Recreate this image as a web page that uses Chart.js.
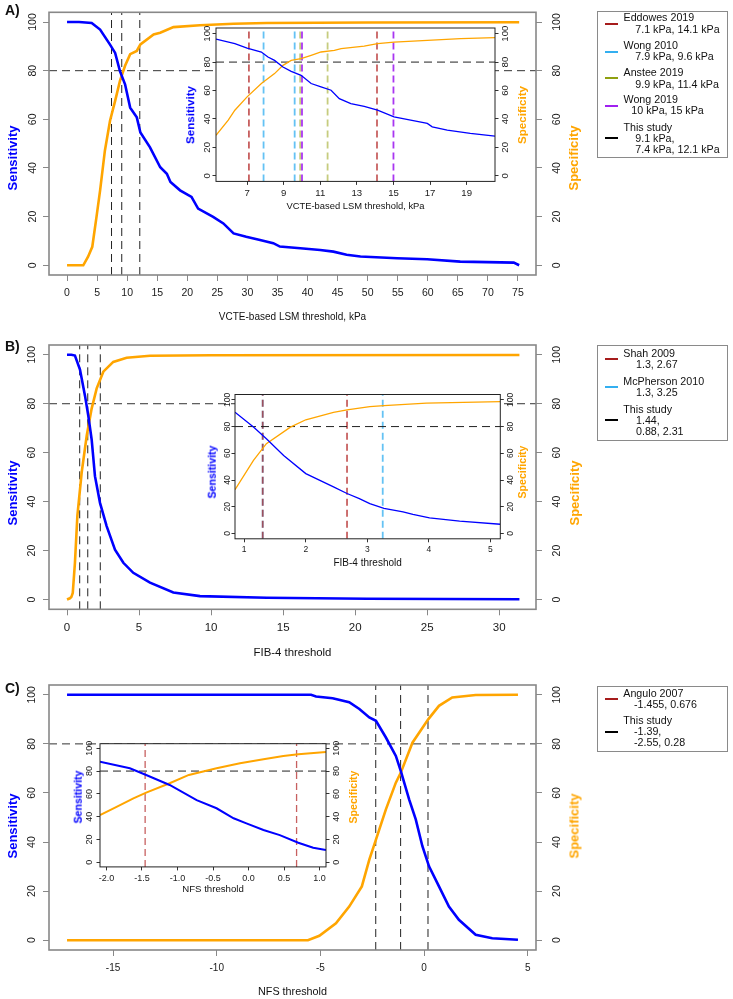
<!DOCTYPE html>
<html><head><meta charset="utf-8">
<script src="https://cdn.jsdelivr.net/npm/chart.js@4.4.1/dist/chart.umd.min.js"></script>
<style>
html,body{margin:0;padding:0;background:#fff;}
#page{position:relative;width:733px;height:999px;overflow:hidden;font-family:"Liberation Sans",Arial,Helvetica,sans-serif;}
#page canvas{position:absolute;}
.vt{position:absolute;font-weight:bold;white-space:nowrap;line-height:1;transform:translate(-50%,-50%) rotate(-90deg);}
.pl{position:absolute;font-weight:bold;font-size:14px;line-height:14px;color:#111;}
.lgbox{position:absolute;border:1px solid #8a8a8a;box-sizing:border-box;}
.lt{position:absolute;white-space:pre;font-size:10.7px;line-height:12px;color:#111;}
.ls{position:absolute;height:2.4px;}
</style></head>
<body><div id="page"></div>
<script>
// ================= DATA =================
const yTickVals = [0, 20, 40, 60, 80, 100];

// ---- Panel A: VCTE-based LSM threshold (kPa) ----
const A_xTicks = [0,5,10,15,20,25,30,35,40,45,50,55,60,65,70,75];
const A_sensX = [0,2,4.1,5.5,7.15,8.0,8.8,9.65,10.5,11.6,12.2,13.8,15.5,16.6,17.2,18.8,20.7,21.8,24.3,26.0,27.7,29.8,32.1,34.3,35.4,38.8,42.1,44.3,46.5,48.8,54.9,59.9,65.4,74.3,75.2];
const A_sensY = [100,100,99.6,96.9,90.7,87.3,79.8,74.4,64.8,60.8,54.6,48.5,40.3,37.6,34.2,30.8,28.1,23.3,19.9,17.2,13.1,11.7,10.4,9.1,7.7,7.0,6.3,5.6,4.3,3.6,2.9,2.5,1.5,1.1,0];
const A_specX = [0,2.7,3.5,4.2,4.9,5.5,6.3,7.15,8.0,8.8,9.65,10.5,11.6,12.2,14.4,15.5,17.7,22.1,27.7,33.2,50,75.2];
const A_specY = [0,0,3.5,7.6,19.9,30.8,47.2,59.4,67.6,75.8,82,86.8,88.1,90.8,94.9,95.6,97.9,98.7,99.3,99.6,99.8,99.9];
const A_studyCuts = [7.4, 9.1, 12.1];
const A_inXTicks = [7,9,11,13,15,17,19];
const A_inSensX = [5.3,6.33,7.0,7.78,8.14,8.5,8.96,9.41,9.95,10.5,11.04,11.59,12.04,12.67,13.4,14.13,15.03,15.94,16.85,17.12,17.94,19.2,20.55];
const A_inSensY = [96.2,93.0,89.9,87.1,83.6,81.2,76.5,73.5,70.7,64.9,62.5,60.2,54.3,50.8,48.8,46.1,41.4,39.1,36.8,34.4,32.1,29.8,27.9];
const A_inSpecX = [5.3,5.97,6.33,7.0,7.78,8.14,8.5,8.96,9.41,9.95,10.5,11.04,11.77,12.14,13.4,14.13,15.03,16.85,18.67,20.55];
const A_inSpecY = [28.5,39.1,46.1,55.5,64.9,68.4,71.9,77.7,81.2,82.4,84.8,87.1,88.3,89.5,91.2,93.0,94.1,95.3,96.5,97.2];
const A_refCuts = [[7.1,14.1],[7.9,9.6],[9.9,11.4],[10,15]];
const A_legend = [['Eddowes 2019','7.1 kPa, 14.1 kPa'],['Wong 2010','7.9 kPa, 9.6 kPa'],['Anstee 2019','9.9 kPa, 11.4 kPa'],['Wong 2019','10 kPa, 15 kPa'],['This study','9.1 kPa,','7.4 kPa, 12.1 kPa']];

// ---- Panel B: FIB-4 threshold ----
const B_xTicks = [0,5,10,15,20,25,30];
const B_sensX = [0,0.3,0.55,0.9,1.25,1.48,1.71,1.94,2.29,2.75,3.33,3.91,4.6,5.76,7.38,9.23,13.86,20.8,31.4];
const B_sensY = [100,100,99.7,94,83.2,75,65.4,50.4,39.5,30,20.4,15,10.9,6.9,2.9,1.4,0.7,0.3,0.1];
const B_specX = [0,0.2,0.3,0.4,0.55,0.72,1.02,1.37,1.71,2.06,2.52,3.21,4.14,5.76,10,31.4];
const B_specY = [0,0.5,1,2.7,15,34.3,52,67,78,86.3,93.1,97.1,98.8,99.6,99.8,99.9];
const B_studyCuts = [0.88, 1.44, 2.31];
const B_inXTicks = [1,2,3,4,5];
const B_inSensX = [0.85,1.15,1.36,1.64,2.0,2.45,2.67,2.87,3.04,3.27,3.58,3.74,4.01,4.5,5.16];
const B_inSensY = [90.7,79.6,70.9,58.4,44.8,34.8,29.9,26.1,22.4,18.7,16.1,14.2,11.6,9.2,6.9];
const B_inSpecX = [0.85,1.15,1.36,1.75,2.0,2.45,2.67,3.04,3.27,3.96,5.16];
const B_inSpecY = [32.8,54.7,67.2,79.6,85.1,90.7,92.5,95.0,95.7,97.5,98.7];
const B_refCuts = [[1.3,2.67],[1.3,3.25]];
const B_legend = [['Shah 2009','1.3, 2.67'],['McPherson 2010','1.3, 3.25'],['This study','1.44,','0.88, 2.31']];

// ---- Panel C: NFS threshold ----
const C_xTicks = [-15,-10,-5,0,5];
const C_sensX = [-17.22,-5.45,-5.21,-4.41,-3.61,-3.12,-2.64,-2.32,-1.84,-1.36,-1.12,-0.72,-0.40,-0.08,0.24,0.72,1.2,1.68,2.49,3.29,4.53];
const C_sensY = [100,100,99.3,98.6,97,94.2,90.8,89.4,82.6,75.1,68.9,57.4,49.2,38.3,30.1,21.9,13.7,8.3,2.2,0.8,0.2];
const C_specX = [-17.22,-5.6,-5.05,-4.25,-3.61,-3.0,-2.64,-2.32,-1.84,-1.36,-1.12,-0.56,0.21,0.72,1.36,2.49,4.53];
const C_specY = [0,0,1.8,6.9,13.7,21.9,32.8,41,53.3,64.2,68.3,80.5,90.1,95.5,98.9,99.9,100];
const C_studyCuts = [-2.33, -1.13, 0.19];
const C_inXTicks = [-2,-1.5,-1,-0.5,0,0.5,1];
const C_inXLabels = ['-2.0','-1.5','-1.0','-0.5','0.0','0.5','1.0'];
const C_inSensX = [-2.09,-1.67,-1.44,-1.11,-0.73,-0.45,-0.21,-0.03,0.21,0.44,0.70,0.91,1.09];
const C_inSensY = [88.2,82.5,76.6,67.8,54.6,47.4,38.6,34.2,28.3,23.9,17.2,12.8,10.8];
const C_inSpecX = [-2.09,-1.85,-1.62,-1.44,-1.11,-0.84,-0.45,-0.12,0.21,0.49,0.70,1.09];
const C_inSpecY = [41.5,48.8,56.1,61.1,69.3,76.6,82.5,86.8,90.4,93.2,94.7,96.8];
const C_refCuts = [[-1.455,0.676]];
const C_legend = [['Angulo 2007','-1.455, 0.676'],['This study','-1.39,','-2.55, 0.28']];

// ================= STYLE / HELPERS =================
Chart.defaults.font.family = '"Liberation Sans", Arial, Helvetica, sans-serif';
Chart.defaults.color = '#1a1a1a';
const BLUE = '#0000FF', ORANGE = '#FFA500';
const REF_LINE = ['rgba(178,34,34,0.72)','rgba(40,170,240,0.72)','rgba(160,170,40,0.6)','rgba(160,32,240,0.9)'];
const REF_LEG = ['#A61C1C','#33AFF0','#8FA010','#A020F0'];
const page = document.getElementById('page');

const boxPlugin = {
  id: 'box',
  beforeDraw(chart, args, o) {
    if (!o.fill) return;
    const {ctx, chartArea: a} = chart;
    ctx.save(); ctx.fillStyle = o.fill; ctx.fillRect(a.left, a.top, a.right - a.left, a.bottom - a.top); ctx.restore();
  },
  afterDraw(chart, args, o) {
    const {ctx, chartArea: a} = chart;
    ctx.save(); ctx.strokeStyle = o.color; ctx.lineWidth = o.width;
    ctx.strokeRect(a.left, a.top, a.right - a.left, a.bottom - a.top); ctx.restore();
  }
};

const pts = (xs, ys) => xs.map((x, i) => ({x: x, y: ys[i]}));
const curve = (xs, ys, axis, color, w) => ({data: pts(xs, ys), yAxisID: axis, borderColor: color, borderWidth: w, pointRadius: 0, tension: 0, fill: false});
const vline = (x, color, w, dash) => ({data: [{x: x, y: -4}, {x: x, y: 104}], yAxisID: 'y', borderColor: color, borderWidth: w, borderDash: dash, pointRadius: 0});
const hline = (y, x0, x1, color, w, dash) => ({data: [{x: x0, y: y}, {x: x1, y: y}], yAxisID: 'y', borderColor: color, borderWidth: w, borderDash: dash, pointRadius: 0});

function makeChart(g) {
  const cv = document.createElement('canvas');
  cv.width = g.w; cv.height = g.h;
  cv.style.left = g.x + 'px'; cv.style.top = g.y + 'px';
  page.appendChild(cv);
  const b = g.box;
  const yW = b.l - g.x, y2W = g.x + g.w - b.r, xH = g.y + g.h - b.b, pt = b.t - g.y;
  const gridOpt = {drawOnChartArea: false, drawTicks: true, tickLength: g.tl, color: g.axisColor, tickColor: g.axisColor, lineWidth: 1};
  const yAxis = (pos, pad) => ({
    type: 'linear', position: pos, min: -4, max: 104,
    afterBuildTicks: s => { s.ticks = yTickVals.map(v => ({value: v})); },
    afterFit: s => { s.width = (pos === 'left') ? yW : y2W; },
    ticks: {minRotation: 90, maxRotation: 90, crossAlign: 'center', padding: pad, autoSkip: false,
            font: {size: g.yTickSize}, color: '#1a1a1a', callback: v => String(v)},
    grid: gridOpt, border: {display: false}
  });
  return new Chart(cv, {
    type: 'line',
    data: {datasets: g.datasets},
    options: {
      responsive: false, animation: false, devicePixelRatio: 1,
      layout: {padding: {top: pt, left: 0, right: 0, bottom: 0}, autoPadding: false},
      plugins: {legend: {display: false}, tooltip: {enabled: false},
                box: {fill: g.fill, color: g.boxColor, width: g.boxWidth}},
      scales: {
        x: {type: 'linear', position: 'bottom', min: g.xmin, max: g.xmax,
            afterBuildTicks: s => { s.ticks = g.xTicks.map(v => ({value: v})); },
            afterFit: s => { s.height = xH; },
            ticks: {padding: g.xPad, autoSkip: false, minRotation: 0, maxRotation: 0,
                    font: {size: g.xTickSize}, color: '#1a1a1a',
                    callback: (v, i) => g.xLabels ? g.xLabels[i] : String(v)},
            grid: gridOpt, border: {display: false},
            title: {display: true, text: g.xTitle, font: {size: g.titleSize}, color: '#111',
                    padding: {top: 0, bottom: g.titlePad}}},
        y: yAxis('left', g.yPadL),
        y2: yAxis('right', g.yPadR)
      }
    },
    plugins: [boxPlugin]
  });
}

function vtitle(text, x, y, size, color) {
  const d = document.createElement('div');
  d.className = 'vt'; d.textContent = text;
  d.style.left = x + 'px'; d.style.top = y + 'px'; d.style.fontSize = size + 'px'; d.style.color = color;
  page.appendChild(d);
}
function plabel(text, x, y) {
  const d = document.createElement('div');
  d.className = 'pl'; d.textContent = text; d.style.left = x + 'px'; d.style.top = (y - 7) + 'px';
  page.appendChild(d);
}
function legend(box, entries, colors, lay) {
  const bx = document.createElement('div');
  bx.className = 'lgbox';
  bx.style.left = box.l + 'px'; bx.style.top = box.t + 'px';
  bx.style.width = (box.r - box.l) + 'px'; bx.style.height = (box.b - box.t) + 'px';
  page.appendChild(bx);
  entries.forEach((lines, k) => {
    const y0 = lay.first[k];
    lines.forEach((s, j) => {
      const t = document.createElement('div');
      t.className = 'lt'; t.textContent = s;
      t.style.left = (j === 0 ? lay.x1 : lay.x2[k]) + 'px';
      t.style.top = (y0 + j * lay.dy - 6) + 'px';
      page.appendChild(t);
    });
    const sg = document.createElement('div');
    sg.className = 'ls'; sg.style.background = colors[k];
    sg.style.left = '604.5px'; sg.style.width = '13px'; sg.style.top = (lay.seg[k] - 1.2) + 'px';
    page.appendChild(sg);
  });
}

const mainStyle = {tl: 6, axisColor: '#888', boxColor: '#888', boxWidth: 1.6, fill: null};
const inStyle = {tl: 3.5, axisColor: '#333', boxColor: '#222', boxWidth: 1, fill: '#ffffff'};
const DASH_M = [8, 5];

// ================= PANEL A =================
makeChart(Object.assign({}, mainStyle, {
  x: 0, y: 0, w: 600, h: 330, box: {l: 49, t: 11, r: 536, b: 275},
  xmin: -3, xmax: 78, xTicks: A_xTicks, xTickSize: 10.5, xPad: 5.7, yTickSize: 10.5, yPadL: 1.5, yPadR: 6,
  xTitle: 'VCTE-based LSM threshold, kPa', titleSize: 10, titlePad: 7,
  datasets: [
    curve(A_sensX, A_sensY, 'y', BLUE, 2.6),
    curve(A_specX, A_specY, 'y2', ORANGE, 2.6),
    ...A_studyCuts.map(c => vline(c, '#222', 1, DASH_M)),
    hline(80, -3, 78, '#333', 1, DASH_M)
  ]
}));
makeChart(Object.assign({}, inStyle, {
  x: 176, y: 18, w: 360, h: 200, box: {l: 216, t: 28, r: 495, b: 181.4},
  xmin: 5.3, xmax: 20.55, xTicks: A_inXTicks, xTickSize: 9.6, xPad: 2.3, yTickSize: 9.6, yPadL: -2.5, yPadR: -1.5,
  xTitle: 'VCTE-based LSM threshold, kPa', titleSize: 9.4, titlePad: 5.7,
  datasets: [
    curve(A_inSensX, A_inSensY, 'y', BLUE, 1.3),
    curve(A_inSpecX, A_inSpecY, 'y2', ORANGE, 1.3),
    hline(80, 5.3, 20.55, '#222', 1, DASH_M),
    ...[3, 2, 1, 0].flatMap(k => A_refCuts[k].map(c => vline(c, REF_LINE[k], 1.8, [7, 4])))
  ]
}));

// ================= PANEL B =================
makeChart(Object.assign({}, mainStyle, {
  x: 0, y: 330, w: 600, h: 335, box: {l: 49, t: 345, r: 536, b: 609.3},
  xmin: -1.25, xmax: 32.55, xTicks: B_xTicks, xTickSize: 11.5, xPad: 5.8, yTickSize: 10.5, yPadL: 2, yPadR: 6,
  xTitle: 'FIB-4 threshold', titleSize: 11.4, titlePad: 5.5,
  datasets: [
    curve(B_sensX, B_sensY, 'y', BLUE, 2.6),
    curve(B_specX, B_specY, 'y2', ORANGE, 2.6),
    ...B_studyCuts.map(c => vline(c, '#222', 1, DASH_M)),
    hline(80, -1.25, 32.55, '#333', 1, DASH_M)
  ]
}));
makeChart(Object.assign({}, inStyle, {
  x: 195, y: 385, w: 340, h: 190, box: {l: 235, t: 394.5, r: 500.3, b: 538.8},
  xmin: 0.85, xmax: 5.16, xTicks: B_inXTicks, xTickSize: 8.5, xPad: 1.9, yTickSize: 8.5, yPadL: -3.3, yPadR: -0.2,
  xTitle: 'FIB-4 threshold', titleSize: 10, titlePad: 5.7,
  datasets: [
    curve(B_inSensX, B_inSensY, 'y', BLUE, 1.3),
    curve(B_inSpecX, B_inSpecY, 'y2', ORANGE, 1.3),
    hline(80, 0.85, 5.16, '#222', 1, DASH_M),
    ...[0, 1].flatMap(k => B_refCuts[k].map(c => vline(c, REF_LINE[k], 1.8, [7, 4])))
  ]
}));

// ================= PANEL C =================
makeChart(Object.assign({}, mainStyle, {
  x: 0, y: 665, w: 600, h: 334, box: {l: 49, t: 685, r: 536, b: 950},
  xmin: -18.09, xmax: 5.40, xTicks: C_xTicks, xTickSize: 10, xPad: 6.3, yTickSize: 10.5, yPadL: 2, yPadR: 6,
  xTitle: 'NFS threshold', titleSize: 10.8, titlePad: 0.3,
  datasets: [
    curve(C_sensX, C_sensY, 'y', BLUE, 2.6),
    curve(C_specX, C_specY, 'y2', ORANGE, 2.6),
    ...C_studyCuts.map(c => vline(c, '#222', 1, DASH_M)),
    hline(80, -18.09, 5.40, '#333', 1, DASH_M)
  ]
}));
makeChart(Object.assign({}, inStyle, {
  x: 60, y: 735, w: 286, h: 165, box: {l: 100, t: 743.7, r: 326, b: 866.9},
  xmin: -2.09, xmax: 1.09, xTicks: C_inXTicks, xLabels: C_inXLabels, xTickSize: 9, xPad: 2.5, yTickSize: 9, yPadL: -0.3, yPadR: -0.3,
  xTitle: 'NFS threshold', titleSize: 9.65, titlePad: 4.9,
  datasets: [
    curve(C_inSensX, C_inSensY, 'y', BLUE, 2),
    curve(C_inSpecX, C_inSpecY, 'y2', ORANGE, 2),
    hline(80, -2.09, 1.09, '#222', 1, DASH_M),
    ...C_refCuts[0].map(c => vline(c, REF_LINE[0], 1.3, [7, 4]))
  ]
}));

// ================= TEXT: titles, panel labels, legends =================
vtitle('Sensitivity', 12.3, 157.5, 13, BLUE); vtitle('Specificity', 573.3, 157.5, 13, ORANGE);
vtitle('Sensitivity', 190, 115, 11.6, BLUE); vtitle('Specificity', 521.7, 115, 11.6, ORANGE);
vtitle('Sensitivity', 12.3, 493.3, 13, BLUE); vtitle('Specificity', 574, 493.3, 13, ORANGE);
vtitle('Sensitivity', 211.7, 472.3, 10.6, BLUE); vtitle('Specificity', 522.3, 472.3, 10.6, ORANGE);
vtitle('Sensitivity', 12.3, 826.3, 13, BLUE); vtitle('Specificity', 574, 826.3, 13, ORANGE);
vtitle('Sensitivity', 77.7, 796.7, 10.6, BLUE); vtitle('Specificity', 352.7, 796.7, 10.6, ORANGE);
plabel('A)', 5, 10); plabel('B)', 5, 346); plabel('C)', 5, 688);

legend({l: 597, t: 11, r: 728, b: 158.3}, A_legend, [REF_LEG[0], REF_LEG[1], REF_LEG[2], REF_LEG[3], '#000'],
  {first: [17.3, 45, 72.3, 99, 126.7], seg: [24.3, 51.7, 78.3, 105.7, 137.7], dy: 11.3, x1: 623.5, x2: [635.3, 635.3, 635.3, 631.3, 635.3]});
legend({l: 597, t: 345, r: 728, b: 441}, B_legend, [REF_LEG[0], REF_LEG[1], '#000'],
  {first: [353.3, 381, 409], seg: [359.3, 386.7, 420], dy: 11, x1: 623.3, x2: [636, 636, 636]});
legend({l: 597, t: 685.7, r: 728, b: 752}, C_legend, [REF_LEG[0], '#000'],
  {first: [693.3, 720.3], seg: [699, 731.7], dy: 11, x1: 623.3, x2: [634, 634]});
</script>
</body></html>
